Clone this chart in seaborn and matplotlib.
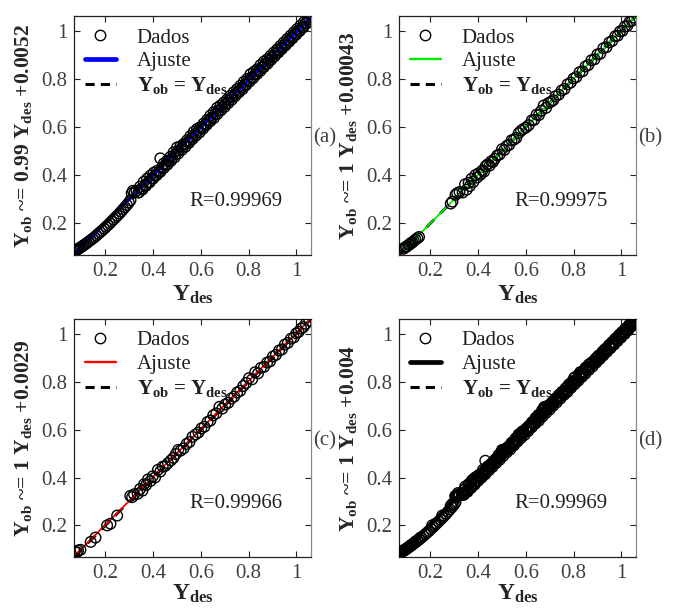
import matplotlib
matplotlib.use("Agg")
import matplotlib.pyplot as plt
from matplotlib.lines import Line2D
import seaborn as sns
import pandas as pd

# ---------------- data ----------------
# panel (a) - training (main ridge)
a_x_main = [0.072, 0.076, 0.080, 0.085, 0.090, 0.096, 0.102, 0.108, 0.115, 0.122, 0.130, 0.138,
            0.146, 0.154, 0.162, 0.170, 0.178, 0.186, 0.194, 0.202, 0.210, 0.218, 0.226, 0.234,
            0.242, 0.250, 0.258, 0.266, 0.274, 0.282, 0.290, 0.298, 0.305, 0.310, 0.315, 0.322,
            0.330, 0.338, 0.345, 0.352, 0.360, 0.367, 0.374, 0.381, 0.388, 0.395, 0.402, 0.409,
            0.416, 0.423, 0.430, 0.437, 0.444, 0.451, 0.458, 0.465, 0.472, 0.479, 0.486, 0.493,
            0.500, 0.507, 0.514, 0.521, 0.528, 0.535, 0.542, 0.549, 0.556, 0.563, 0.570, 0.577,
            0.584, 0.591, 0.598, 0.605, 0.612, 0.619, 0.626, 0.633, 0.640, 0.647, 0.654, 0.661,
            0.668, 0.675, 0.682, 0.689, 0.696, 0.703, 0.710, 0.717, 0.724, 0.731, 0.738, 0.745,
            0.752, 0.759, 0.766, 0.773, 0.780, 0.787, 0.794, 0.801, 0.808, 0.815, 0.822, 0.829,
            0.836, 0.843, 0.850, 0.857, 0.864, 0.871, 0.878, 0.885, 0.892, 0.899, 0.906, 0.913,
            0.920, 0.927, 0.934, 0.941, 0.948, 0.955, 0.962, 0.969, 0.976, 0.983, 0.990, 0.997,
            1.004, 1.011, 1.018, 1.025, 1.032, 1.040, 1.048, 1.055]
a_y_main = [0.086, 0.088, 0.090, 0.093, 0.096, 0.100, 0.104, 0.108, 0.113, 0.118, 0.124, 0.130,
            0.136, 0.142, 0.149, 0.156, 0.163, 0.170, 0.177, 0.185, 0.192, 0.200, 0.208, 0.216,
            0.224, 0.232, 0.240, 0.249, 0.258, 0.267, 0.276, 0.286, 0.296, 0.325, 0.335, 0.328,
            0.335, 0.328, 0.352, 0.345, 0.372, 0.360, 0.385, 0.372, 0.398, 0.388, 0.410, 0.400,
            0.418, 0.412, 0.470, 0.432, 0.448, 0.442, 0.460, 0.458, 0.476, 0.470, 0.495, 0.487,
            0.515, 0.502, 0.520, 0.515, 0.530, 0.528, 0.545, 0.540, 0.562, 0.556, 0.580, 0.572,
            0.592, 0.585, 0.600, 0.598, 0.615, 0.610, 0.630, 0.625, 0.648, 0.640, 0.662, 0.655,
            0.680, 0.670, 0.690, 0.683, 0.702, 0.695, 0.715, 0.710, 0.730, 0.724, 0.745, 0.738,
            0.758, 0.751, 0.772, 0.765, 0.788, 0.779, 0.800, 0.795, 0.820, 0.808, 0.830, 0.822,
            0.840, 0.835, 0.858, 0.850, 0.872, 0.864, 0.882, 0.876, 0.896, 0.890, 0.910, 0.905,
            0.923, 0.918, 0.938, 0.932, 0.952, 0.946, 0.966, 0.960, 0.980, 0.975, 0.994, 0.988,
            1.008, 1.002, 1.022, 1.016, 1.036, 1.032, 1.046, 1.055]
# panel (a) - training (lower edge of the band)
a_x_low = [0.340, 0.355, 0.370, 0.385, 0.400, 0.415, 0.430, 0.445, 0.460, 0.475, 0.490, 0.505,
           0.520, 0.535, 0.550, 0.565, 0.580, 0.595, 0.610, 0.625, 0.640, 0.655, 0.670, 0.685,
           0.700, 0.715, 0.730, 0.745, 0.760, 0.775, 0.790, 0.805, 0.820, 0.835, 0.850, 0.865,
           0.880, 0.895, 0.910, 0.925, 0.940, 0.955, 0.970, 0.985, 1.000, 1.015, 1.030, 1.045]
a_y_low = [0.328, 0.340, 0.356, 0.370, 0.386, 0.400, 0.414, 0.430, 0.444, 0.460, 0.474, 0.490,
           0.505, 0.518, 0.534, 0.550, 0.565, 0.578, 0.594, 0.610, 0.625, 0.638, 0.655, 0.670,
           0.684, 0.700, 0.714, 0.730, 0.745, 0.758, 0.775, 0.790, 0.804, 0.820, 0.834, 0.850,
           0.864, 0.880, 0.895, 0.910, 0.925, 0.940, 0.955, 0.970, 0.985, 1.000, 1.015, 1.032]

# panel (b) - validation
b_x = [0.087, 0.092, 0.097, 0.102, 0.108, 0.113, 0.118, 0.124, 0.130, 0.137, 0.145, 0.152,
       0.285, 0.292, 0.305, 0.312, 0.322, 0.335, 0.345, 0.352, 0.360,
       0.365, 0.372, 0.380, 0.388, 0.395, 0.402, 0.410, 0.418, 0.425, 0.432, 0.440, 0.448,
       0.455, 0.462, 0.470, 0.480, 0.490, 0.500, 0.510, 0.520, 0.530, 0.540, 0.550, 0.560,
       0.570, 0.580, 0.590, 0.600, 0.612, 0.625, 0.635, 0.645, 0.655, 0.665, 0.675, 0.685,
       0.695, 0.705, 0.715, 0.725, 0.738, 0.750, 0.762, 0.775, 0.788, 0.800, 0.812, 0.825,
       0.838, 0.850, 0.862, 0.875, 0.888, 0.900, 0.912, 0.925, 0.938, 0.950, 0.962, 0.975,
       0.985, 0.995, 1.005, 1.015, 1.025, 1.035, 1.045, 1.055]
b_y = [0.094, 0.098, 0.102, 0.104, 0.110, 0.112, 0.118, 0.120, 0.126, 0.132, 0.138, 0.143,
       0.282, 0.290, 0.318, 0.325, 0.330, 0.328, 0.362, 0.340, 0.368,
       0.355, 0.385, 0.372, 0.400, 0.390, 0.408, 0.402, 0.420, 0.415, 0.438, 0.445, 0.440,
       0.458, 0.455, 0.468, 0.482, 0.486, 0.508, 0.505, 0.522, 0.526, 0.545, 0.548, 0.555,
       0.575, 0.585, 0.592, 0.598, 0.608, 0.628, 0.630, 0.652, 0.650, 0.668, 0.690, 0.680,
       0.700, 0.705, 0.712, 0.728, 0.735, 0.752, 0.758, 0.778, 0.785, 0.802, 0.808, 0.828,
       0.832, 0.852, 0.858, 0.878, 0.882, 0.902, 0.905, 0.928, 0.932, 0.952, 0.958, 0.978,
       0.980, 0.998, 1.000, 1.018, 1.020, 1.038, 1.042, 1.055]

# panel (c) - test
c_x = [0.071, 0.080, 0.085, 0.095, 0.138, 0.158, 0.207, 0.221, 0.249,
       0.304, 0.312, 0.320, 0.335, 0.345, 0.355, 0.362, 0.370, 0.378, 0.388, 0.398, 0.408,
       0.420, 0.430, 0.440, 0.450, 0.462, 0.475, 0.485, 0.495, 0.505, 0.515, 0.528, 0.540,
       0.552, 0.565, 0.578, 0.590, 0.602, 0.615, 0.628, 0.640, 0.652, 0.665, 0.678, 0.690,
       0.702, 0.715, 0.728, 0.740, 0.752, 0.765, 0.778, 0.790, 0.802, 0.815, 0.828, 0.840,
       0.852, 0.865, 0.878, 0.890, 0.902, 0.915, 0.928, 0.940, 0.952, 0.965, 0.978, 0.990,
       1.000, 1.010, 1.020, 1.030, 1.040, 1.055]
c_y = [0.090, 0.088, 0.095, 0.098, 0.131, 0.149, 0.200, 0.207, 0.241,
       0.323, 0.318, 0.330, 0.332, 0.352, 0.345, 0.372, 0.368, 0.392, 0.385, 0.405, 0.400,
       0.432, 0.425, 0.445, 0.448, 0.460, 0.472, 0.482, 0.498, 0.515, 0.512, 0.522, 0.540,
       0.548, 0.570, 0.580, 0.588, 0.605, 0.612, 0.632, 0.638, 0.660, 0.668, 0.695, 0.688,
       0.705, 0.712, 0.730, 0.738, 0.755, 0.762, 0.782, 0.795, 0.815, 0.810, 0.840, 0.835,
       0.858, 0.862, 0.880, 0.885, 0.905, 0.912, 0.930, 0.935, 0.955, 0.962, 0.980, 0.985,
       1.002, 1.008, 1.022, 1.028, 1.042, 1.055]

# fit coefficients (slope, intercept) and R values per panel
fit_slope = [0.99, 1.0, 1.0, 1.0]
fit_icpt = [0.0052, 0.00043, 0.0029, 0.004]
slope_txt = ["0.99", "1", "1", "1"]
icpt_txt = ["0.0052", "0.00043", "0.0029", "0.004"]
r_vals = ["0.99969", "0.99975", "0.99966", "0.99969"]
panel_tags = ["(a)", "(b)", "(c)", "(d)"]
fit_colors = ["#0000ff", "#00ee00", "#ff0000", "#000000"]
fit_widths = [2.6, 1.3, 1.3, 2.6]

x_ticks = [0.2, 0.4, 0.6, 0.8, 1.0]
x_tick_labels = ["0.2", "0.4", "0.6", "0.8", "1"]

a_x = a_x_main + a_x_low
a_y = a_y_main + a_y_low
# panel (d) = all data together
d_x = a_x + b_x + c_x
d_y = a_y + b_y + c_y
panels = [(a_x, a_y), (b_x, b_y), (c_x, c_y), (d_x, d_y)]

# ---------------- style ----------------
sns.set_style("ticks")
plt.rcParams["font.family"] = ["Liberation Serif", "DejaVu Serif"]
plt.rcParams["mathtext.fontset"] = "custom"
plt.rcParams["mathtext.rm"] = "Liberation Serif"
plt.rcParams["mathtext.bf"] = "Liberation Serif:bold"
plt.rcParams["mathtext.it"] = "Liberation Serif:italic"

fig = plt.figure(figsize=(6.73, 6.08), dpi=100)
W, H = 673, 608
boxes = [(74, 16, 311, 255), (399, 16, 636, 255), (74, 319, 311, 557), (399, 319, 636, 557)]
xlabel_pads = [2, 2, 0, 0]

FS = 15
tick_col = "#404040"
lim = (0.068, 1.062)

for i, (xs, ys) in enumerate(panels):
    l, t, r, b = boxes[i]
    ax = fig.add_axes([l / W, 1 - b / H, (r - l) / W, (b - t) / H])

    lo, hi = min(xs), max(xs)
    diag = pd.DataFrame({"x": [lim[0], lim[1]], "y": [lim[0], lim[1]]})
    fitdf = pd.DataFrame({"x": [lo, hi],
                          "y": [fit_slope[i] * lo + fit_icpt[i], fit_slope[i] * hi + fit_icpt[i]]})
    sns.lineplot(data=diag, x="x", y="y", ax=ax, color="black", lw=2.0,
                 linestyle=(0, (4, 3)), zorder=1)
    sns.lineplot(data=fitdf, x="x", y="y", ax=ax, color=fit_colors[i],
                 lw=fit_widths[i], zorder=2)
    df = pd.DataFrame({"x": xs, "y": ys})
    sns.scatterplot(data=df, x="x", y="y", ax=ax, marker="o", s=58,
                    facecolors="none", edgecolor="black", linewidth=1.0, zorder=3)

    ax.set_xlim(*lim)
    ax.set_ylim(*lim)
    ax.set_xticks(x_ticks)
    ax.set_xticklabels(x_tick_labels)
    ax.set_yticks(x_ticks)
    ax.set_yticklabels(x_tick_labels)
    ax.tick_params(direction="in", top=True, right=True, length=4, width=0.8,
                   labelsize=FS, labelcolor=tick_col, color="#222222", pad=5)
    for s in ["left", "bottom", "top"]:
        ax.spines[s].set_color("#222222")
        ax.spines[s].set_linewidth(0.9)
    ax.spines["right"].set_color("#888888")
    ax.spines["right"].set_linewidth(0.9)

    ax.set_xlabel(r"$\mathbf{Y_{des}}$", fontsize=FS + 2, labelpad=xlabel_pads[i])
    ax.set_ylabel(r"$\mathbf{Y_{ob}}$ ~= " + slope_txt[i] + r" $\mathbf{Y_{des}}$ +" + icpt_txt[i],
                  fontsize=FS + 0.5, fontweight="bold", labelpad=5)

    ax.text(0.55, 0.29, "R=" + r_vals[i], fontsize=FS, color="#202020",
            ha="left", va="center")
    ax.text(1.01, 0.49, panel_tags[i], transform=ax.transAxes, fontsize=FS,
            color=tick_col, ha="left", va="center")

    handles = [
        Line2D([], [], marker="o", linestyle="none", markerfacecolor="none",
               markeredgecolor="black", markersize=7.5, markeredgewidth=1.0),
        Line2D([], [], color=fit_colors[i], lw=fit_widths[i] + 0.8 if fit_widths[i] > 2 else fit_widths[i] + 0.4),
        Line2D([], [], color="black", lw=2.2, linestyle=(0, (3, 2))),
    ]
    labels = ["Dados", "Ajuste", r"$\mathbf{Y_{ob}}$ = $\mathbf{Y_{des}}$"]
    leg = ax.legend(handles, labels, loc="upper left", bbox_to_anchor=(0.01, 0.985),
                    frameon=False, fontsize=FS, handlelength=1.5, handletextpad=1.0,
                    labelspacing=0.2, borderaxespad=0.0)
    leg.get_texts()[2].set_fontweight("bold")
    for tx in leg.get_texts():
        tx.set_color("#202020")

fig.savefig("out.png", dpi=100)
